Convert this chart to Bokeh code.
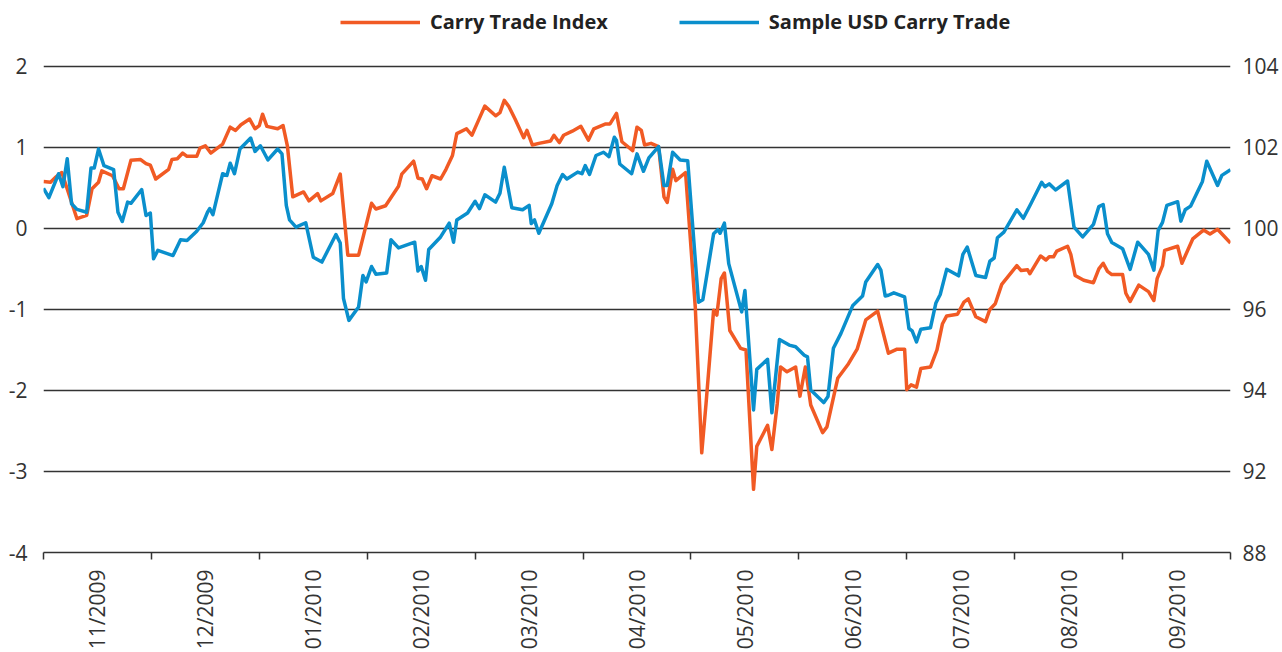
import math
from bokeh.plotting import figure
from bokeh.models import Range1d, LinearAxis, FixedTicker, Legend, LegendItem
from bokeh.embed import file_html
from bokeh.resources import INLINE

# ---- data (x = position in months since start of Nov 2009) ----
months = ["11/2009", "12/2009", "01/2010", "02/2010", "03/2010", "04/2010",
          "05/2010", "06/2010", "07/2010", "08/2010", "09/2010"]

carry_t = [0.00, 0.065, 0.11, 0.17, 0.31, 0.40, 0.45, 0.51, 0.54, 0.64, 0.70, 0.74, 0.81, 0.90, 0.95, 0.99,
           1.04, 1.16, 1.19, 1.24, 1.29, 1.33, 1.42, 1.45, 1.50, 1.55, 1.66, 1.73, 1.78, 1.83, 1.91, 1.96,
           2.00, 2.03, 2.07, 2.17, 2.22, 2.26, 2.31, 2.41, 2.46, 2.54, 2.57, 2.68, 2.75, 2.82, 2.92,
           3.04, 3.08, 3.17, 3.29, 3.32, 3.43, 3.47, 3.51, 3.55, 3.60, 3.68, 3.73, 3.79, 3.83, 3.92, 3.97,
           4.03, 4.09, 4.19, 4.23, 4.27, 4.31, 4.37, 4.45, 4.48, 4.53, 4.59, 4.70, 4.73, 4.78, 4.82, 4.90, 4.98,
           5.05, 5.10, 5.21, 5.25, 5.31, 5.36, 5.46, 5.50, 5.54, 5.57, 5.63, 5.70, 5.75, 5.78, 5.83, 5.86, 5.95,
           6.04, 6.10, 6.14, 6.21, 6.24, 6.28, 6.31, 6.36, 6.46, 6.51, 6.58, 6.61, 6.71, 6.75, 6.80, 6.83, 6.89, 6.97,
           7.01, 7.06, 7.11, 7.22, 7.26, 7.36, 7.46, 7.54, 7.62, 7.73, 7.83, 7.91, 7.98,
           8.00, 8.04, 8.09, 8.13, 8.22, 8.28, 8.33, 8.37, 8.47, 8.53, 8.57, 8.64, 8.73, 8.77, 8.82, 8.88,
           9.02, 9.06, 9.12, 9.14, 9.24, 9.29, 9.32, 9.36, 9.39, 9.49, 9.52, 9.56, 9.64, 9.73, 9.78, 9.82, 9.86, 9.90,
           10.00, 10.03, 10.07, 10.15, 10.24, 10.29, 10.32, 10.37, 10.39, 10.51, 10.55, 10.65, 10.75, 10.81, 10.88, 11.00]
carry_v = [0.58, 0.57, 0.63, 0.69, 0.12, 0.16, 0.49, 0.57, 0.71, 0.65, 0.49, 0.49, 0.84, 0.85, 0.80, 0.78,
           0.61, 0.73, 0.85, 0.86, 0.93, 0.89, 0.89, 0.99, 1.02, 0.93, 1.04, 1.25, 1.21, 1.28, 1.35, 1.23,
           1.27, 1.41, 1.26, 1.23, 1.27, 1.02, 0.39, 0.45, 0.34, 0.43, 0.34, 0.43, 0.67, -0.33, -0.33,
           0.31, 0.24, 0.28, 0.52, 0.67, 0.83, 0.62, 0.61, 0.49, 0.65, 0.61, 0.73, 0.90, 1.17, 1.23, 1.15,
           1.33, 1.51, 1.39, 1.43, 1.58, 1.51, 1.35, 1.12, 1.21, 1.03, 1.05, 1.08, 1.15, 1.06, 1.15, 1.20, 1.26,
           1.09, 1.23, 1.29, 1.29, 1.42, 1.07, 0.96, 1.25, 1.21, 1.03, 1.05, 1.01, 0.39, 0.32, 0.73, 0.59, 0.69,
           -0.97, -2.77, -2.16, -1.01, -1.07, -0.62, -0.55, -1.26, -1.48, -1.50, -3.22, -2.69, -2.43, -2.73, -2.16, -1.71, -1.77, -1.71,
           -2.07, -1.71, -2.18, -2.52, -2.45, -1.85, -1.67, -1.49, -1.13, -1.02, -1.54, -1.49, -1.49,
           -1.99, -1.93, -1.96, -1.73, -1.71, -1.50, -1.18, -1.08, -1.06, -0.91, -0.87, -1.09, -1.15, -1.00, -0.93, -0.69,
           -0.46, -0.52, -0.51, -0.56, -0.34, -0.39, -0.35, -0.35, -0.28, -0.22, -0.32, -0.58, -0.64, -0.67, -0.50, -0.43, -0.53, -0.57,
           -0.57, -0.80, -0.90, -0.70, -0.78, -0.89, -0.62, -0.46, -0.27, -0.22, -0.43, -0.13, -0.02, -0.07, -0.01, -0.18]

usd_t = [0.00, 0.05, 0.14, 0.18, 0.22, 0.26, 0.31, 0.40, 0.44, 0.47, 0.51, 0.56, 0.65, 0.69, 0.73, 0.78, 0.81, 0.91, 0.95, 0.99,
         1.02, 1.06, 1.20, 1.27, 1.33, 1.42, 1.48, 1.52, 1.54, 1.57, 1.66, 1.70, 1.73, 1.77, 1.82, 1.92, 1.96,
         2.01, 2.08, 2.17, 2.21, 2.25, 2.28, 2.34, 2.43, 2.50, 2.58, 2.71, 2.75, 2.78, 2.83, 2.92, 2.96, 2.99,
         3.04, 3.08, 3.18, 3.22, 3.29, 3.44, 3.47, 3.50, 3.54, 3.57, 3.68, 3.76, 3.80, 3.83, 3.93,
         4.00, 4.04, 4.09, 4.19, 4.23, 4.27, 4.34, 4.44, 4.50, 4.52, 4.55, 4.59, 4.71, 4.76, 4.81, 4.85, 4.95, 4.99,
         5.02, 5.06, 5.12, 5.19, 5.24, 5.29, 5.31, 5.34, 5.45, 5.50, 5.56, 5.61, 5.70, 5.75, 5.78, 5.83, 5.90, 5.97,
         6.07, 6.11, 6.21, 6.25, 6.27, 6.31, 6.35, 6.47, 6.50, 6.58, 6.61, 6.71, 6.75, 6.82, 6.91, 6.97,
         7.05, 7.08, 7.11, 7.23, 7.27, 7.32, 7.39, 7.50, 7.59, 7.62, 7.73, 7.76, 7.80, 7.83, 7.88, 7.98,
         8.02, 8.05, 8.09, 8.13, 8.22, 8.27, 8.31, 8.37, 8.48, 8.52, 8.56, 8.64, 8.73, 8.77, 8.81, 8.84, 8.90,
         9.02, 9.08, 9.15, 9.25, 9.28, 9.32, 9.38, 9.49, 9.55, 9.63, 9.73, 9.78, 9.82, 9.86, 9.90,
         10.00, 10.07, 10.14, 10.24, 10.29, 10.33, 10.37, 10.41, 10.51, 10.54, 10.58, 10.63, 10.74, 10.78, 10.88, 10.92, 11.00]
usd_v = [100.99, 100.76, 101.35, 101.03, 101.72, 100.61, 100.47, 100.40, 101.49, 101.49, 101.96, 101.55, 101.45, 100.40, 100.17, 100.65, 100.62, 100.96, 100.32, 100.38,
         99.25, 99.46, 99.33, 99.72, 99.70, 99.93, 100.14, 100.40, 100.49, 100.34, 101.35, 101.31, 101.61, 101.35, 101.96, 102.23, 101.90,
         102.04, 101.69, 101.96, 101.84, 100.57, 100.21, 100.03, 100.14, 99.29, 99.17, 99.85, 99.64, 98.27, 97.73, 98.06, 98.84, 98.68,
         99.06, 98.87, 98.90, 99.72, 99.52, 99.66, 98.95, 99.06, 98.72, 99.48, 99.79, 100.13, 99.66, 100.21, 100.38,
         100.67, 100.49, 100.83, 100.65, 100.87, 101.51, 100.51, 100.46, 100.57, 100.12, 100.21, 99.88, 100.61, 101.06, 101.33, 101.22, 101.39, 101.35,
         101.55, 101.33, 101.80, 101.88, 101.77, 102.25, 102.17, 101.59, 101.35, 101.84, 101.41, 101.74, 102.02, 101.06, 101.06, 101.88, 101.69, 101.67,
         98.18, 98.24, 99.87, 99.97, 99.88, 100.13, 99.13, 97.94, 98.47, 95.52, 96.52, 96.77, 95.45, 97.26, 97.12, 97.08,
         96.87, 96.83, 96.01, 95.70, 95.85, 97.04, 97.41, 98.10, 98.33, 98.68, 99.11, 98.97, 98.33, 98.35, 98.41, 98.31,
         97.53, 97.47, 97.20, 97.51, 97.55, 98.16, 98.37, 98.99, 98.83, 99.36, 99.54, 98.84, 98.79, 99.19, 99.27, 99.77, 99.91,
         100.46, 100.25, 100.61, 101.14, 101.03, 101.10, 100.95, 101.17, 100.03, 99.79, 100.10, 100.54, 100.59, 99.87, 99.65,
         99.50, 98.99, 99.66, 99.36, 98.97, 99.95, 100.15, 100.57, 100.66, 100.18, 100.46, 100.55, 101.16, 101.66, 101.06, 101.31, 101.45]

left_ticks = [-4, -3, -2, -1, 0, 1, 2]
# right-axis tick values (one per gridline) and the labels printed in the source chart
right_ticks = [92, 94, 96, 98, 100, 102, 104]
right_tick_labels = ["88", "92", "94", "96", "100", "102", "104"]
series_names = ["Carry Trade Index", "Sample USD Carry Trade"]

ORANGE = "#F15A24"
BLUE = "#0A8FCC"
GRID = "#333333"
TXT = "#333333"
FONT = "Open Sans"

# frame spans the full figure height; the space above the top gridline holds the legend
FRAME_H = 553.0
unit_px = 487.0 / (left_ticks[-1] - left_ticks[0])
y_top = left_ticks[0] + FRAME_H / unit_px
ratio = (right_ticks[-1] - right_ticks[0]) / (left_ticks[-1] - left_ticks[0])

p = figure(width=1282, height=652, output_backend="svg", toolbar_location=None,
           x_range=Range1d(0, len(months)),
           y_range=Range1d(left_ticks[0], y_top),
           min_border_left=43, min_border_right=52, min_border_top=0, min_border_bottom=0)
p.outline_line_color = None
p.extra_y_ranges = {"usd": Range1d(right_ticks[0], right_ticks[0] + ratio * (y_top - left_ticks[0]))}

# left axis
ya = p.yaxis[0]
ya.ticker = FixedTicker(ticks=left_ticks)
ya.major_label_overrides = {t: str(t) for t in left_ticks}
ya.axis_line_color = None
ya.major_tick_line_color = None
ya.minor_tick_line_color = None
ya.major_tick_out = 0
ya.major_tick_in = 0
ya.major_label_standoff = 16
ya.major_label_text_font = FONT
ya.major_label_text_font_size = "21px"
ya.major_label_text_color = TXT

# right axis
ra = LinearAxis(y_range_name="usd", ticker=FixedTicker(ticks=right_ticks))
ra.major_label_overrides = {t: s for t, s in zip(right_ticks, right_tick_labels)}
ra.axis_line_color = None
ra.major_tick_line_color = None
ra.minor_tick_line_color = None
ra.major_tick_out = 0
ra.major_tick_in = 0
ra.major_label_standoff = 12
ra.major_label_text_font = FONT
ra.major_label_text_font_size = "21px"
ra.major_label_text_color = TXT
p.add_layout(ra, "right")

# bottom axis: labels centred in months, ticks at month boundaries
xa = p.xaxis[0]
centers = [i + 0.5 for i in range(len(months))]
xa.ticker = FixedTicker(ticks=centers, minor_ticks=list(range(len(months) + 1)))
xa.major_label_overrides = {c: m for c, m in zip(centers, months)}
xa.major_tick_line_color = None
xa.major_tick_out = 0
xa.major_tick_in = 0
xa.minor_tick_line_color = GRID
xa.minor_tick_out = 7
xa.minor_tick_in = 0
xa.minor_tick_line_width = 1.5
xa.axis_line_color = GRID
xa.axis_line_width = 1.5
xa.axis_label_standoff = 0
xa.major_label_orientation = math.pi / 2
xa.major_label_standoff = 10
xa.major_label_text_font = FONT
xa.major_label_text_font_size = "21px"
xa.major_label_text_color = TXT

p.xgrid.grid_line_color = None
p.ygrid.grid_line_color = GRID
p.ygrid.grid_line_width = 1.5

r1 = p.line(carry_t, carry_v, line_color=ORANGE, line_width=3.5, line_join="round")
r2 = p.line(usd_t, usd_v, y_range_name="usd", line_color=BLUE, line_width=3.5, line_join="round")

legend = Legend(items=[LegendItem(label=series_names[0], renderers=[r1]),
                       LegendItem(label=series_names[1], renderers=[r2])],
                orientation="horizontal", location=(297, 517),
                glyph_width=80, glyph_height=20, label_standoff=10, spacing=71,
                padding=0, margin=0, border_line_color=None, background_fill_alpha=0,
                label_text_font=FONT, label_text_font_style="bold",
                label_text_font_size="20px", label_text_color="#222222")
p.add_layout(legend, "center")

open("out.html", "w").write(file_html(p, INLINE))
